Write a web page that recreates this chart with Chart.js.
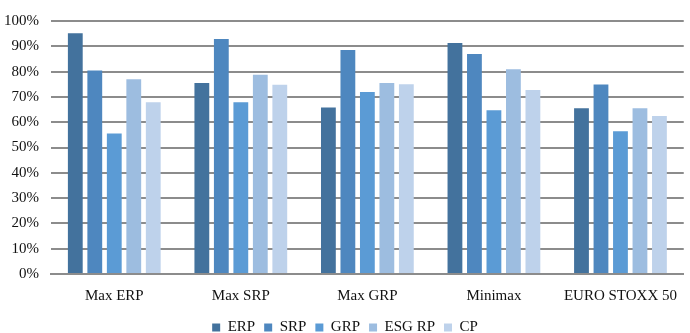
<!DOCTYPE html>
<html>
<head>
<meta charset="utf-8">
<script src="https://cdn.jsdelivr.net/npm/chart.js@4/dist/chart.umd.min.js"></script>
<style>
  html, body { margin: 0; padding: 0; background: #fff; }
  #wrap { width: 690px; height: 333px; }
</style>
</head>
<body>
<div id="wrap"><canvas id="chart"></canvas></div>
<script>
const categories = ["Max ERP", "Max SRP", "Max GRP", "Minimax", "EURO STOXX 50"];
const erp = [95.2, 75.5, 65.8, 91.3, 65.5];
const srp = [80.4, 92.9, 88.5, 87.0, 74.9];
const grp = [55.5, 67.9, 71.9, 64.7, 56.4];
const esgRp = [77.0, 78.8, 75.5, 80.9, 65.5];
const cp = [67.9, 74.8, 75.0, 72.7, 62.5];
const yTicks = [0, 10, 20, 30, 40, 50, 60, 70, 80, 90, 100];

const FONT = "'Liberation Serif', serif";

const series = [
  { label: "ERP", data: erp, color: "#43729d" },
  { label: "SRP", data: srp, color: "#4e87bf" },
  { label: "GRP", data: grp, color: "#5b9bd5" },
  { label: "ESG RP", data: esgRp, color: "#9dbde0" },
  { label: "CP", data: cp, color: "#bed2eb" },
];

new Chart(document.getElementById("chart"), {
  type: "bar",
  data: {
    labels: categories,
    datasets: series.map((s) => ({
      label: s.label,
      data: s.data,
      backgroundColor: s.color,
      borderWidth: 0,
      categoryPercentage: 0.77,
      barPercentage: 0.76,
    })),
  },
  options: {
    responsive: true,
    maintainAspectRatio: false,
    animation: false,
    layout: { padding: { top: 7, right: 0, left: 0, bottom: 0 } },
    plugins: {
      tooltip: { enabled: false },
      legend: {
        position: "bottom",
        maxHeight: 22,
        labels: {
          font: { family: FONT, size: 15 },
          color: "#111",
          boxWidth: 8,
          boxHeight: 8,
          padding: 9,
        },
      },
    },
    scales: {
      x: {
        grid: { display: false, drawTicks: false },
        border: { display: true, color: "#8c8c8c", width: 2 },
        ticks: { font: { family: FONT, size: 15 }, color: "#111", padding: 13, maxRotation: 0 },
        afterFit: (scale) => { scale.height = 37; },
      },
      y: {
        min: 0,
        max: 100,
        afterBuildTicks: (scale) => { scale.ticks = yTicks.map((v) => ({ value: v })); },
        grid: { color: "#8c8c8c", lineWidth: 2, drawTicks: false },
        border: { display: false },
        ticks: {
          font: { family: FONT, size: 15 },
          color: "#111",
          padding: 12,
          callback: (v) => v + "%",
        },
        afterFit: (scale) => { scale.width = 51; },
      },
    },
  },
});
</script>
</body>
</html>
